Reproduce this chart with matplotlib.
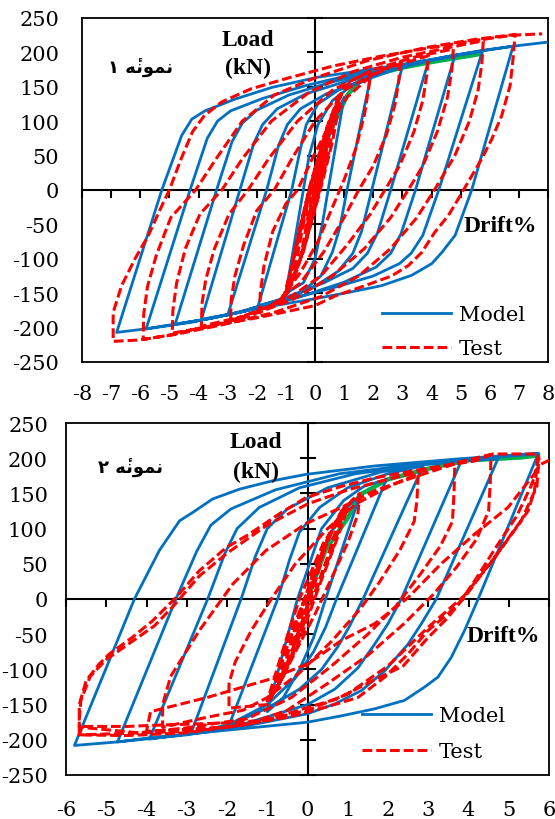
import matplotlib.pyplot as plt
import numpy as np

#==========
# DATA
#==========

x1_ticks = np.arange(-8, 9, 1)
x2_ticks = np.arange(-6, 7, 1)
y_ticks = np.arange(-250, 251, 50)

# sample 1 - model (one cycle per line)
m1_x = [0, 0.3, 0.6, 1.0,
        0.45, 0.25, 0.0, -0.4, -1.0,
        -0.4, -0.2, 0.1, 0.6, 1.2, 1.9,
        1.1, 0.85, 0.6, 0.2, -0.5, -1.2, -1.95,
        -0.8, -0.5, -0.3, 0.1, 0.8, 1.8, 3.0,
        1.95, 1.6, 1.3, 0.8, 0.0, -1.0, -2.0, -3.0,
        -1.66, -1.25, -0.95, -0.5, 0.4, 1.6, 2.8, 3.9,
        2.6, 2.15, 1.8, 1.3, 0.3, -1.0, -2.5, -3.9,
        -2.58, -2.1, -1.8, -1.3, -0.3, 1.0, 2.5, 3.8, 4.8,
        3.45, 2.95, 2.6, 2.1, 1.0, -0.5, -2.0, -3.5, -4.8,
        -3.38, -2.85, -2.5, -2.0, -0.9, 0.5, 2.0, 3.5, 4.8, 5.75,
        4.25, 3.7, 3.3, 2.9, 2.0, 0.8, -0.8, -2.5, -4.2, -5.8,
        -4.29, -3.7, -3.35, -2.9, -1.8, -0.3, 1.5, 3.2, 4.8, 6.8,
        5.38, 4.81, 4.35, 4.01, 3.32, 2.29, 1.14, 0.0, -1.95, -3.9, -5.84, -6.81,
        -5.26, -4.58, -4.23, -3.78, -2.75, -1.49, 0.1, 2.0, 3.9, 5.75, 6.8, 8.0]
m1_y = [0, 50, 95, 135,
        0, -50, -100, -135, -150,
        0, 50, 95, 130, 150, 162,
        0, -55, -90, -125, -150, -160, -168,
        0, 60, 95, 125, 145, 163, 180,
        0, -60, -92, -118, -140, -158, -170, -182,
        0, 65, 95, 118, 140, 158, 176, 188,
        0, -62, -92, -114, -135, -156, -177, -188,
        0, 68, 95, 118, 140, 157, 174, 187, 195,
        0, -64, -92, -112, -134, -155, -172, -186, -195,
        0, 70, 97, 116, 138, 156, 172, 185, 195, 202,
        0, -66, -92, -107, -125, -140, -158, -177, -192, -202,
        0, 75, 100, 115, 133, 152, 170, 183, 196, 209,
        0, -66, -91, -107, -124, -139, -149, -158, -172, -189, -202, -207,
        0, 79, 103, 115, 132, 149, 164, 176, 189, 203, 209, 215]

# sample 1 - test
t1_x = [0, 0.15, 0.3, 0.1, -0.1, -0.3, -0.1, 0.1, 0.3,
        0.5, 0.3, 0.0, -0.3, -0.5, -0.25, 0.05, 0.3, 0.55,
        0.35, 0.0, -0.4, -0.75, -0.45, -0.1, 0.35, 0.75,
        0.5, 0.1, -0.4, -1.0, -0.6, -0.2, 0.4, 0.85,
        0.6, 0.3, -0.1, -0.6, -0.9, -0.55, -0.15, 0.45, 0.9,
        0.6, 0.15, -0.35, -0.85, -1.1, -0.7, -0.3, 0.1, 0.5, 1.0, 1.4, 1.9,
        1.85, 1.7, 1.4, 1.0, 0.6, 0.1, -0.5, -1.2, -1.9,
        -1.88, -1.75, -1.45, -1.0, -0.6, -0.1, 0.5, 1.1, 1.9, 2.92,
        2.88, 2.75, 2.45, 2.0, 1.5, 1.0, 0.3, -0.5, -1.5, -2.9,
        -2.88, -2.75, -2.45, -2.0, -1.4, -0.8, 0.0, 1.0, 2.3, 3.89,
        3.85, 3.7, 3.4, 2.9, 2.4, 1.9, 1.1, 0.2, -1.0, -2.4, -3.9,
        -3.88, -3.75, -3.45, -2.95, -2.3, -1.6, -0.6, 0.6, 2.0, 3.4, 4.75,
        4.7, 4.55, 4.2, 3.7, 3.2, 2.6, 1.7, 0.6, -0.8, -2.4, -3.8, -4.9,
        -4.88, -4.75, -4.45, -3.95, -3.2, -2.5, -1.5, -0.2, 1.3, 3.0, 4.6, 5.78,
        5.73, 5.6, 5.3, 4.8, 4.1, 3.5, 2.6, 1.5, 0.2, -1.4, -3.2, -4.8, -5.9,
        -5.88, -5.75, -5.45, -4.95, -4.1, -3.4, -2.5, -1.4, 0.0, 1.8, 3.8, 5.5, 6.87,
        6.81, 6.7, 6.41, 6.07, 5.72, 5.32, 4.92, 4.58, 4.12, 3.66, 3.2, 2.63, 1.72,
        0.69, 0.0, -1.9, -3.9, -5.0, -6.0, -6.93,
        -6.93, -6.64, -6.18, -5.72, -5.26, -5.0, -4.6, -4.2, -3.8, -3.2, -2.2, -0.9,
        0.6, 2.2, 4.0, 5.6, 6.8, 7.8]
t1_y = [0, 30, 55, 10, -30, -60, -15, 25, 58,
        90, 40, -20, -70, -100, -40, 20, 70, 100,
        50, -25, -85, -130, -60, 10, 80, 125,
        60, -10, -90, -150, -70, 0, 90, 140,
        105, 45, -40, -115, -145, -60, 10, 95, 140,
        70, -5, -80, -140, -160, -95, -25, 35, 95, 150, 162, 172,
        150, 110, 60, 15, -25, -75, -120, -160, -178,
        -150, -110, -60, -20, 0, 45, 95, 135, 165, 186,
        160, 125, 80, 35, 0, -40, -90, -135, -168, -190,
        -160, -125, -80, -30, 0, 45, 100, 145, 175, 195,
        170, 130, 85, 35, 0, -35, -80, -125, -160, -183, -198,
        -165, -130, -85, -35, 0, 45, 100, 145, 175, 193, 205,
        175, 135, 85, 35, 0, -40, -85, -125, -160, -185, -200, -208,
        -175, -135, -85, -35, 0, 45, 100, 142, 172, 193, 207, 217,
        185, 145, 100, 50, 0, -40, -85, -125, -155, -178, -196, -210, -217,
        -180, -140, -95, -40, 0, 45, 100, 138, 163, 188, 207, 219, 226,
        195, 152, 108, 74, 45, 16, -13, -37, -61, -91, -110, -125, -139,
        -154, -168, -185, -200, -211, -218, -220,
        -178, -139, -100, -66, -23, 0, 45, 85, 108, 128, 147, 163,
        180, 194, 207, 218, 225, 227]

# sample 1 - envelope
g1_x = [0, 0.4, 1.1, 1.5, 2.0, 3.0, 4.0, 5.3, 5.7]
g1_y = [0, 75, 137, 158, 167, 178, 186, 195, 198]

# sample 2 - model
m2_x = [0, 0.4, 0.8, 1.3,
        0.45, 0.15, -0.2, -0.6, -1.0,
        -0.25, 0.05, 0.35, 0.9, 1.4, 1.96,
        0.72, 0.45, 0.15, -0.3, -1.0, -1.94,
        -0.74, -0.45, -0.2, 0.3, 1.0, 2.0, 2.87,
        1.38, 1.05, 0.75, 0.35, -0.2, -1.0, -1.9, -2.89,
        -1.65, -1.3, -1.0, -0.5, 0.5, 1.8, 2.9, 3.82,
        2.33, 2.0, 1.67, 1.25, 0.68, 0.0, -1.5, -2.9, -3.93,
        -2.48, -2.05, -1.75, -1.2, -0.2, 1.2, 2.8, 3.8, 4.73,
        3.2, 2.83, 2.5, 1.92, 1.34, 0.68, 0.0, -1.5, -3.0, -4.72,
        -3.27, -2.75, -2.4, -1.9, -0.8, 0.8, 2.5, 4.0, 5.73,
        4.24, 3.9, 3.57, 3.24, 2.91, 2.41, 1.67, 0.84, 0.0, -1.94, -3.9, -4.72, -5.79,
        -4.3, -3.68, -3.18, -2.85, -2.36, -1.69, -0.86, -0.04, 1.67, 3.74, 5.73]
m2_y = [0, 70, 120, 147,
        0, -55, -100, -140, -160,
        0, 50, 100, 140, 160, 170,
        0, -40, -75, -112, -150, -178,
        0, 55, 95, 130, 158, 178, 189,
        0, -38, -68, -100, -128, -155, -178, -190,
        0, 60, 100, 128, 158, 180, 192, 196,
        0, -35, -64, -98, -128, -150, -176, -191, -199,
        0, 65, 100, 130, 158, 178, 190, 196, 199,
        0, -35, -64, -102, -130, -149, -163, -180, -193, -203,
        0, 68, 105, 128, 155, 178, 190, 199, 206,
        0, -45, -83, -111, -125, -144, -156, -166, -175, -186, -197, -203, -208,
        0, 69, 111, 123, 142, 156, 168, 177, 189, 199, 207]

# sample 2 - test
t2_x = [0, 0.2, 0.4, 0.15, -0.15, -0.35, -0.1, 0.2, 0.5,
        0.25, -0.1, -0.5, -0.65, -0.3, 0.1, 0.6, 0.85,
        0.5, 0.0, -0.6, -1.0, -0.6, -0.2, 0.4, 1.0,
        0.7, 0.3, -0.2, -0.7, -0.95, -0.55, -0.1, 0.5, 0.95,
        0.65, 0.2, -0.35, -0.8, -0.5, 0.0, 0.6, 1.1, 1.3,
        1.25, 1.0, 0.6, 0.2, -0.3, -0.7, -1.0, -1.95,
        -1.95, -1.8, -1.4, -0.9, -0.3, 0.5, 1.2, 2.1, 2.75,
        2.72, 2.65, 2.3, 1.8, 1.3, 0.6, -0.2, -1.0, -1.6, -2.5, -3.6,
        -3.6, -3.4, -2.69, -1.86, -1.03, -0.04, 0.84, 1.67, 2.91, 3.66,
        3.64, 3.6, 3.3, 2.8, 2.2, 1.5, 0.6, -0.4, -1.5, -3.0, -4.2, -5.67,
        -5.67, -5.5, -5.17, -4.92, -4.34, -3.85, -3.27, -2.69, -2.02, -1.45, -0.7,
        -0.04, 0.84, 1.67, 2.91, 4.15, 4.56,
        4.54, 4.5, 4.2, 3.7, 3.1, 2.4, 1.5, 0.5, -0.5, -1.5, -3.0, -4.5, -5.67,
        -5.67, -5.63, -5.4, -5.0, -4.4, -3.8, -3.3, -2.7, -2.0, -1.0, 0.0, 1.0,
        2.0, 3.3, 4.6, 5.73,
        5.64, 5.48, 5.06, 4.65, 4.32, 3.9, 3.49, 2.99, 2.5, 1.92, 1.25, 0.43,
        -0.5, -2.0, -4.0,
        -3.9, -2.5, -1.0, 0.01, 0.84, 1.67, 2.5, 3.32, 4.15, 4.98, 5.64, 5.75,
        5.7, 5.3, 4.6, 3.9, 3.0, 2.0, 1.0, 0.0, -1.5, -3.0, -5.67,
        -5.6, -4.5, -3.6, -2.0, -1.0, -0.11, 0.73, 1.55, 2.38, 2.96, 3.46, 3.79,
        4.2, 4.7, 5.2, 5.55, 5.75, 6.07]
t2_y = [0, 35, 70, 20, -35, -65, -15, 40, 85,
        35, -30, -90, -110, -40, 30, 100, 125,
        60, -20, -110, -145, -70, 0, 80, 130,
        80, 20, -60, -120, -140, -75, -5, 85, 135,
        75, 10, -75, -130, -60, 10, 95, 140, 150,
        120, 80, 30, -20, -75, -120, -150, -155,
        -120, -90, -45, 0, 50, 100, 135, 162, 178,
        140, 110, 70, 25, -15, -60, -105, -140, -158, -168, -182,
        -150, -110, -45, 21, 69, 107, 130, 154, 178, 192,
        150, 110, 75, 35, -10, -50, -95, -140, -170, -183, -190, -182,
        -150, -116, -92, -78, -54, -31, 2, 40, 73, 92, 121,
        144, 160, 172, 185, 196, 205,
        165, 125, 85, 45, 5, -35, -80, -120, -158, -178, -190, -194, -193,
        -170, -144, -110, -86, -62, -38, -8, 32, 65, 105, 135, 155,
        170, 188, 206, 206,
        154, 125, 92, 59, 35, 2, -21, -45, -78, -111, -140, -154,
        -168, -182, -188,
        -160, -140, -115, -92, -59, -35, 2, 50, 92, 130, 178, 200,
        160, 110, 55, 5, -40, -95, -135, -158, -178, -188, -193,
        -181, -181, -179, -176, -172, -156, -142, -118, -95, -57, -28, -5,
        30, 75, 118, 160, 190, 199]

# sample 2 - envelope
g2_x = [0, 0.45, 1.0, 1.3, 2.0, 3.2, 4.0, 5.3, 5.73]
g2_y = [0, 70, 115, 148, 170, 188, 197, 201, 204]

#==========
# DRAWING
#==========

W, H = 555., 820.
BLUE = '#0070C0'
RED = '#FF0000'
GREEN = '#00B050'

plt.rcParams['font.family'] = 'DejaVu Serif'


def fx(px):
    return px / W


def fy(py):
    return 1. - py / H


def draw_panel(ax, xticks, mx, my, tx, ty, gx, gy, xpad, ypad):
    ax.plot(gx, gy, color=GREEN, lw=3.2, zorder=2)
    model, = ax.plot(mx, my, color=BLUE, lw=2.0, zorder=3, label='Model')
    test, = ax.plot(tx, ty, color=RED, lw=2.2, linestyle=(0, (3.2, 1.3)),
                    zorder=4, label='Test')

    # axes through the origin, Excel style
    ax.axhline(0, color='black', lw=1.5, zorder=1)
    ax.axvline(0, color='black', lw=1.5, zorder=1)
    ax.plot(xticks, np.zeros(len(xticks)), linestyle='none', marker=3,
            ms=6, mew=1.5, color='black', clip_on=False, zorder=1)
    ax.plot(np.zeros(len(y_ticks)), y_ticks, linestyle='none', marker='_',
            ms=11, mew=1.5, color='black', clip_on=False, zorder=1)

    ax.set_xlim(xticks[0], xticks[-1])
    ax.set_ylim(-250, 250)
    ax.set_xticks(xticks)
    ax.set_yticks(y_ticks)
    ax.set_xticklabels([str(v) for v in xticks])
    ax.set_yticklabels([str(v) for v in y_ticks])
    ax.tick_params(axis='both', length=0, labelsize=15)
    ax.tick_params(axis='x', pad=xpad)
    ax.tick_params(axis='y', pad=ypad)
    for s in ax.spines.values():
        s.set_linewidth(1.3)
        s.set_color('black')
    return model, test


fig = plt.figure(figsize=(W / 100., H / 100.), dpi=100)

ax1 = fig.add_axes([fx(82), fy(363), fx(548) - fx(82), fy(19) - fy(363)])
h1 = draw_panel(ax1, x1_ticks, m1_x, m1_y, t1_x, t1_y, g1_x, g1_y, 16, 16.5)

ax2 = fig.add_axes([fx(66), fy(776), fx(549) - fx(66), fy(424) - fy(776)])
h2 = draw_panel(ax2, x2_ticks, m2_x, m2_y, t2_x, t2_y, g2_x, g2_y, 18, 13)

for ax, h, anchor, sp in [(ax1, h1, (fx(382), fy(306)), 0.72),
                          (ax2, h2, (fx(362), fy(707)), 0.82)]:
    ax.legend(handles=list(h), loc='upper left', bbox_to_anchor=anchor,
              bbox_transform=fig.transFigure, frameon=False, fontsize=15,
              handlelength=3.3, handletextpad=0.4, borderpad=0,
              borderaxespad=0, labelspacing=sp)

bold = dict(family='Liberation Serif', weight='bold', size=17, ha='center', va='center')
fig.text(fx(248), fy(40), 'Load', **bold)
fig.text(fx(248), fy(68), '(kN)', **bold)
fig.text(fx(500), fy(227), 'Drift%', **bold)
fig.text(fx(256), fy(443), 'Load', **bold)
fig.text(fx(256), fy(472), '(kN)', **bold)
fig.text(fx(503), fy(637), 'Drift%', **bold)

# Persian labels, glyphs given in visual order (no shaping in matplotlib)
word = '\uFEEA\u0654\uFEE7\uFEEE\uFEE4\uFEE7'
fa = dict(family=['DejaVu Sans', 'Noto Sans'], weight='bold', size=13, ha='center', va='center')
fig.text(fx(140), fy(68), '\u06F1 ' + word, **fa)
fig.text(fx(131), fy(468), '\u06F2 ' + word, **fa)

fig.savefig('out.png', dpi=100)
